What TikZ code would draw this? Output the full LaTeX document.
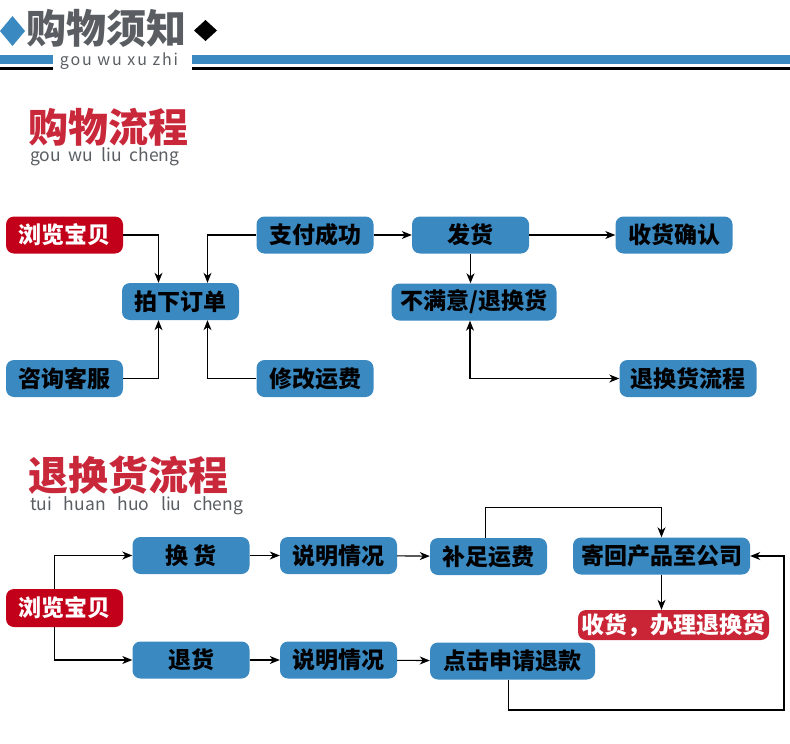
\documentclass[tikz,border=0pt]{standalone}
\usepackage{fontspec}
\newfontfamily\cjk{Noto Sans CJK SC}
\usetikzlibrary{arrows.meta}
\definecolor{boxblue}{HTML}{3A89C1}
\definecolor{darkred}{HTML}{C3001A}
\definecolor{lightred}{HTML}{C92537}
\definecolor{titlered}{HTML}{C8283A}
\definecolor{textgray}{HTML}{5A5E62}
\begin{document}
\begin{tikzpicture}[x=1pt,y=-1pt,
  box/.style={fill=boxblue,rounded corners=8pt,minimum width=117pt,minimum height=37pt,inner sep=0pt,
    font=\cjk\bfseries\fontsize{23}{23}\selectfont,text=black},
  redbox/.style={box,fill=darkred,text=white},
  link/.style={line width=1.1pt,-{Stealth[length=10pt,width=8pt,inset=3pt]}},
  twolink/.style={line width=1.1pt,{Stealth[length=10pt,width=8pt,inset=3pt]}-{Stealth[length=10pt,width=8pt,inset=3pt]}},
  bigtitle/.style={anchor=west,inner sep=0pt,font=\cjk\bfseries\fontsize{40}{40}\selectfont,text=titlered},
  pinyin/.style={anchor=west,inner sep=0pt,font=\cjk\fontsize{17.5}{17.5}\selectfont,text=textgray}]
\useasboundingbox (0,0) rectangle (790,744);

\fill[boxblue] (0,31)--(12.5,16)--(25,31)--(12.5,46)--cycle;
\fill[black] (194,30.5)--(205.5,20)--(217,30.5)--(205.5,41)--cycle;
\node[inner sep=0pt,text=textgray,font=\cjk\bfseries\fontsize{40}{40}\selectfont] (head) at (107,28) {购物须知};
\fill[boxblue] (0,55) rectangle (53,64);
\fill[boxblue] (192,55) rectangle (790,64);
\fill[black] (0,67) rectangle (53,69.5);
\fill[black] (192,67) rectangle (790,69.5);
\node[inner sep=0pt,text=textgray,font=\cjk\fontsize{16}{16}\selectfont\addfontfeature{LetterSpace=12}] (headpy) at (119,61) {gou wu xu zhi};

\node[bigtitle] (title1) at (28,127) {购物流程};
\node[pinyin] (py1) at (30,157) {gou\ \ wu\ \ liu\ \ cheng};

\node[redbox] (browseA) at (64.5,235) {浏览宝贝};
\node[box] (pay) at (315,235) {支付成功};
\node[box] (ship) at (470.5,235) {发货};
\node[box] (confirm) at (674,235) {收货确认};
\node[box] (order) at (180.5,301.5) {拍下订单};
\node[box,minimum width=165pt] (unhappy) at (474,302) {不满意/退换货};
\node[box] (consult) at (64.5,378.5) {咨询客服};
\node[box] (fee) at (315,378.5) {修改运费};
\node[box,minimum width=137pt] (returnflow) at (688,378.5) {退换货流程};

\draw[link] (browseA.east) -| ([xshift=-22pt]order.north);
\draw[link] (pay.west) -| ([xshift=27pt]order.north);
\draw[link] (consult.east) -| ([xshift=-22pt]order.south);
\draw[link] (fee.west) -| ([xshift=27pt]order.south);
\draw[link] (pay) -- (ship);
\draw[link] (ship) -- (confirm);
\draw[link] (ship.south) -- (ship.south |- unhappy.north);
\draw[twolink] ([xshift=-4pt]unhappy.south) |- (returnflow.west);

\node[bigtitle] (title2) at (28,475) {退换货流程};
\node[pinyin] (py2) at (30,506) {tui\ \ \ huan\ \ \ huo\ \ \ liu\ \ \ cheng};

\node[box] (exch) at (191,555.5) {换 货};
\node[box] (explainA) at (338.5,555.5) {说明情况};
\node[box] (supplement) at (488.5,556.5) {补足运费};
\node[box,minimum width=177pt] (send) at (661.5,556) {寄回产品至公司};
\node[redbox,minimum height=38pt] (browseB) at (64.5,608) {浏览宝贝};
\node[redbox,fill=lightred,minimum width=191pt,minimum height=30pt] (receive) at (673.5,625) {收货，办理退换货};
\node[box] (refund) at (191,660) {退货};
\node[box] (explainB) at (338.5,660) {说明情况};
\node[box,minimum width=165pt] (apply) at (512.5,661) {点击申请退款};
\coordinate (loop) at (784,710);

\draw[link] ([xshift=-10pt]browseB.north) |- (exch.west);
\draw[link] ([xshift=-10pt]browseB.south) |- (refund.west);
\draw[link] (exch) -- (explainA);
\draw[link] (explainA) -- (supplement);
\draw[link] (refund) -- (explainB);
\draw[link] (explainB) -- (apply);
\draw[link] ([xshift=-3pt]supplement.north) -- ++(0,-30) -| (send.north);
\draw[link] (send.south) -- (send.south |- receive.north);
\draw[link] ([xshift=-4pt]apply.south) |- (loop) |- (send.east);
\end{tikzpicture}
\end{document}
